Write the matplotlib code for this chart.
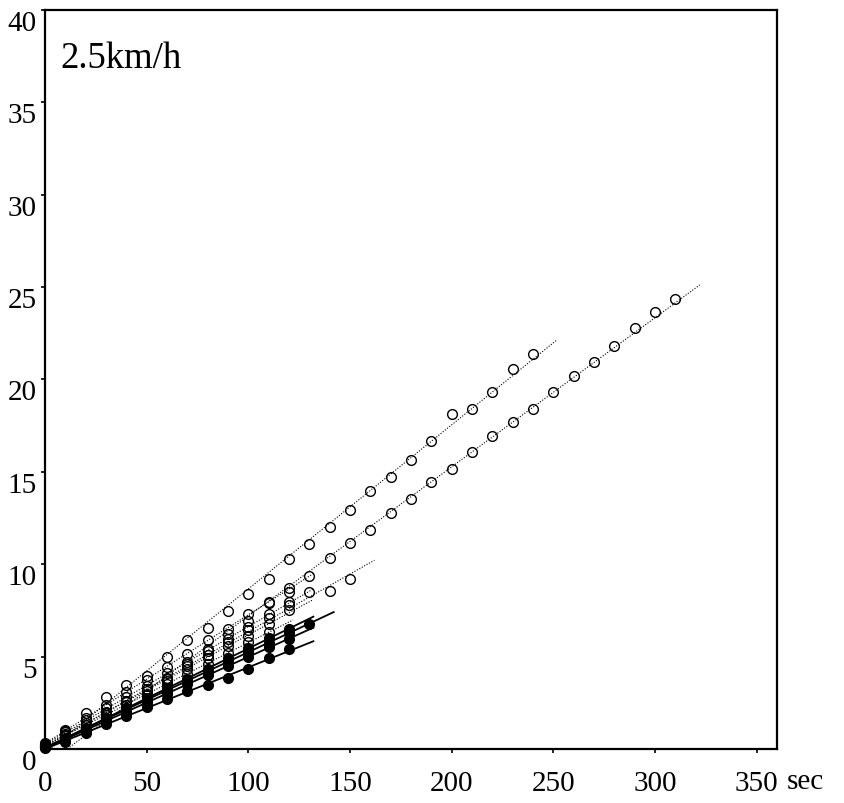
import numpy as np
import matplotlib.pyplot as plt

plt.rcParams['font.family'] = ['Liberation Serif', 'DejaVu Serif']

# open-circle runs (dotted fit lines)
t_a = np.arange(0, 250, 10)
y_a = [0.2, 0.95, 1.95, 2.8, 3.46, 3.97, 4.96, 5.9, 6.53, 7.45, 8.39, 9.2, 10.3,
       11.12, 12.04, 12.96, 13.99, 14.71, 15.63, 16.66, 18.14, 18.41, 19.35, 20.55, 21.4]
t_b = np.arange(0, 320, 10)
y_b = [0.1, 0.5, 1.0, 1.6, 2.2, 2.9, 3.7, 4.6, 5.4, 6.2, 6.95, 7.9, 8.48, 9.35,
       10.32, 11.14, 11.86, 12.78, 13.54, 14.44, 15.16, 16.1, 16.96, 17.69, 18.41,
       19.35, 20.18, 20.94, 21.84, 22.79, 23.64, 24.36]
t_c = np.arange(0, 160, 10)
y_c = [0.15, 0.7, 1.3, 1.95, 2.6, 3.25, 3.85, 4.5, 5.1, 5.8, 6.45, 7.1, 7.8, 8.48, 8.55, 9.2]
t_d = np.arange(0, 130, 10)
y_d = [0.3, 1.0, 1.7, 2.4, 3.1, 3.75, 4.45, 5.15, 5.9, 6.5, 7.3, 7.95, 8.7]
y_e = [0.25, 0.9, 1.55, 2.2, 2.8, 3.4, 4.1, 4.7, 5.3, 5.95, 6.6, 7.3, 7.95]
y_f = [0.2, 0.8, 1.4, 2.0, 2.55, 3.15, 3.8, 4.35, 4.95, 5.55, 6.1, 6.75, 7.5]
t_g = np.arange(0, 120, 10)
y_g = [0.2, 0.75, 1.3, 1.85, 2.4, 2.95, 3.5, 4.05, 4.6, 5.2, 5.8, 6.35]

# filled-circle runs (solid fit lines)
t_h = np.arange(0, 140, 10)
y_h = [0.1, 0.6, 1.1, 1.6, 2.15, 2.65, 3.15, 3.7, 4.2, 4.75, 5.25, 5.75, 6.3, 6.77]
t_i = np.arange(0, 130, 10)
y_i = [0.1, 0.55, 1.1, 1.65, 2.2, 2.75, 3.3, 3.8, 4.35, 4.9, 5.45, 6.0, 6.5]
y_j = [0.1, 0.5, 1.0, 1.5, 2.0, 2.5, 3.0, 3.5, 4.0, 4.5, 5.0, 5.5, 5.95]
y_k = [0.05, 0.4, 0.85, 1.35, 1.8, 2.25, 2.7, 3.15, 3.45, 3.85, 4.33, 4.91, 5.41]

open_runs = [(t_a, y_a), (t_b, y_b), (t_c, y_c), (t_d, y_d), (t_d, y_e), (t_d, y_f), (t_g, y_g)]
filled_runs = [(t_h, y_h), (t_i, y_i), (t_i, y_j), (t_i, y_k)]

fig = plt.figure(figsize=(8.44, 8.04), dpi=100)
ax = fig.add_axes([0.0533, 0.0672, 0.8673, 0.9191])

for t, y in open_runs:
    k, b = np.polyfit(t, y, 1)
    xl = np.array([0, t[-1] + 12])
    ax.plot(xl, k * xl + b, color='black', lw=0.8, ls=(0, (1, 1.5)))
    ax.plot(t, y, 'o', ms=7, mfc='none', mec='black', mew=1.0, clip_on=False)

for t, y in filled_runs:
    k, b = np.polyfit(t, y, 1)
    xl = np.array([0, t[-1] + 12])
    ax.plot(xl, k * xl + b, color='black', lw=1.3)
    ax.plot(t, y, 'o', ms=7, mfc='black', mec='black', mew=1.0, clip_on=False)

ax.set_xlim(0, 360)
ax.set_ylim(0, 40)
ax.set_xticks([0, 50, 100, 150, 200, 250, 300, 350])
ax.set_yticks([0, 5, 10, 15, 20, 25, 30, 35, 40])
ax.tick_params(axis='both', labelsize=21, length=3, width=1.2, color='black')
ax.tick_params(axis='x', pad=12)
ax.tick_params(axis='y', pad=3)
for lab in ax.get_yticklabels():
    lab.set_verticalalignment('top')
for s in ax.spines.values():
    s.set_linewidth(1.6)

ax.text(0.0205, 0.923, '2.5km/h', transform=ax.transAxes, fontsize=26.5, ha='left', va='baseline')
ax.text(1.013, -0.0255, 'sec', transform=ax.transAxes, fontsize=21, ha='left', va='top')

fig.savefig('out.png', dpi=100)
